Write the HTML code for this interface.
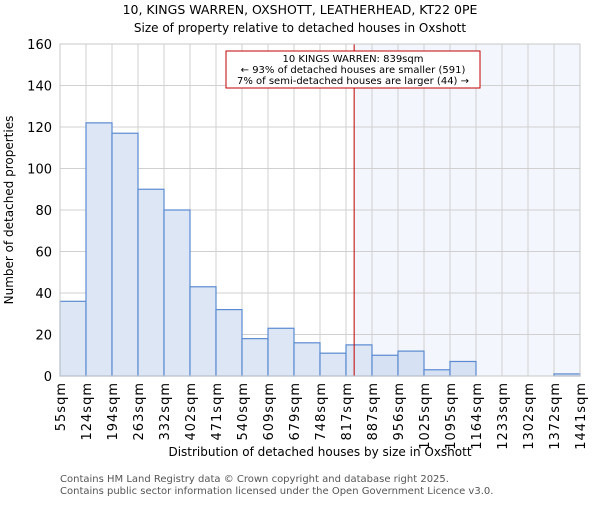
<!DOCTYPE html>
<html><head><meta charset="utf-8"><style>
body{margin:0;background:#fff;font-family:"Liberation Sans","DejaVu Sans",sans-serif}
</style></head><body>
<svg width="600" height="500" xmlns="http://www.w3.org/2000/svg" font-family="DejaVu Sans, Liberation Sans, sans-serif">
<text x="300" y="14" text-anchor="middle" font-size="12.5">10, KINGS WARREN, OXSHOTT, LEATHERHEAD, KT22 0PE</text>
<text x="300" y="32" text-anchor="middle" font-size="12">Size of property relative to detached houses in Oxshott</text>
<g id="plot"></g>
<text x="320" y="456" text-anchor="middle" font-size="12">Distribution of detached houses by size in Oxshott</text>
<text transform="translate(13,210) rotate(-90)" text-anchor="middle" font-size="12">Number of detached properties</text>
<text x="60" y="482" font-size="10" fill="#555">Contains HM Land Registry data © Crown copyright and database right 2025.</text>
<text x="60" y="494" font-size="10" fill="#555">Contains public sector information licensed under the Open Government Licence v3.0.</text>
</svg>
<script>
const binLabels=["55sqm","124sqm","194sqm","263sqm","332sqm","402sqm","471sqm","540sqm","609sqm","679sqm","748sqm","817sqm","887sqm","956sqm","1025sqm","1095sqm","1164sqm","1233sqm","1302sqm","1372sqm","1441sqm"];
const counts=[36,122,117,90,80,43,32,18,23,16,11,15,10,12,3,7,0,0,0,1];
const yTicks=[0,20,40,60,80,100,120,140,160];
const subjectSize=839;
const NS="http://www.w3.org/2000/svg";
const L=60,R=580,T=44,B=376,yMax=160;
const n=counts.length,bw=(R-L)/n;
const xIdx=i=>L+i*bw;
const xVal=v=>{const lo=55,hi=1441;return L+(v-lo)/(hi-lo)*(R-L);};
const y=v=>B-v/yMax*(B-T);
const g=document.getElementById('plot');
function mk(t,a){const e=document.createElementNS(NS,t);for(const k in a)e.setAttribute(k,a[k]);g.appendChild(e);return e;}
const sx=xVal(subjectSize);
let e=mk('rect',{x:sx,y:T,width:R-sx,height:B-T,fill:'#f3f6fd'});


for(const t of yTicks){e=mk('line',{x1:L,x2:R,y1:y(t),y2:y(t),stroke:'#d0d0d0'});


e=mk('text',{x:L-8,y:y(t)+5,'text-anchor':'end','font-size':'13'});e.textContent=t;

}
for(let i=0;i<=n;i++){e=mk('line',{x1:xIdx(i),x2:xIdx(i),y1:T,y2:B,stroke:'#d0d0d0'});

}
counts.forEach((c,i)=>{if(c<=0)return;const x0=xIdx(i);const after=x0>=sx-1;
e=mk('rect',{x:x0,y:y(c),width:bw,height:B-y(c),fill:after?'#d6e1f3':'#dce6f5',stroke:'#5b8ad0','stroke-width':1.2});

});
binLabels.forEach((lb,i)=>{const x=xIdx(i);e=mk('text',{transform:`translate(${x+5},382) rotate(-90)`,'text-anchor':'end','font-size':'13','letter-spacing':'1'});e.textContent=lb;

});
e=mk('line',{x1:sx,x2:sx,y1:T,y2:B,stroke:'#c00000','stroke-width':1});


e=mk('rect',{x:226,y:51,width:254,height:37,fill:'#fff',stroke:'#c00000'});


["10 KINGS WARREN: 839sqm","← 93% of detached houses are smaller (591)","7% of semi-detached houses are larger (44) →"].forEach((s,k)=>{
e=mk('text',{x:353,y:62+k*11,'text-anchor':'middle','font-size':'10'});e.textContent=s;

});
e=mk('rect',{x:L,y:T,width:R-L,height:B-T,fill:'none',stroke:'#c8c8c8'});


</script>
</body></html>
